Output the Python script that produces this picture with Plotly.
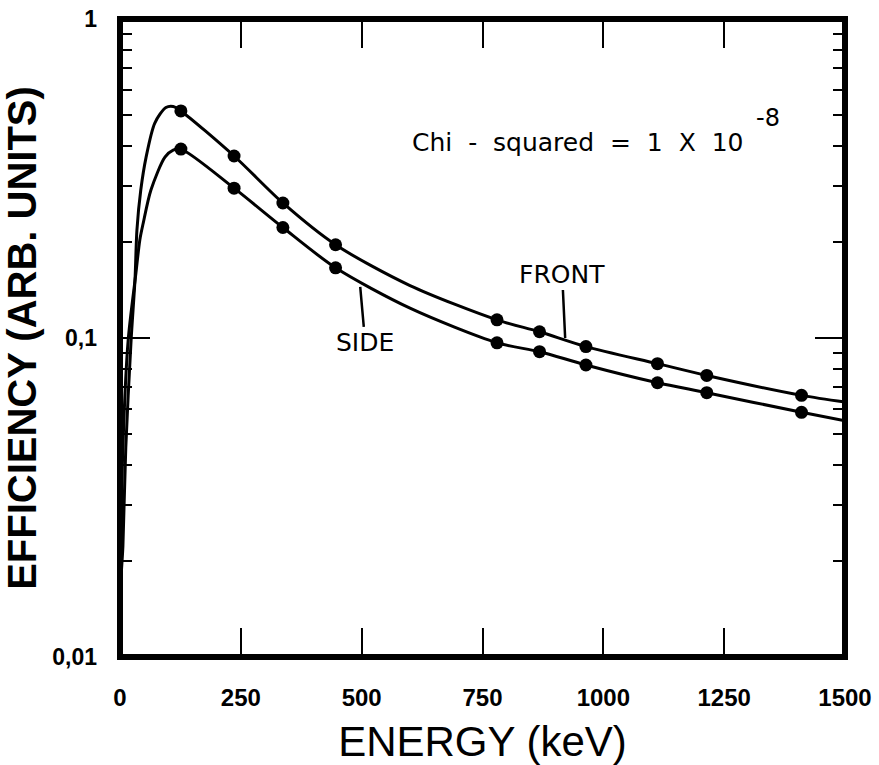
import plotly.graph_objects as go

# Measured points (energies in keV)
point_energy = [126, 236, 337, 446, 780, 868, 964, 1112, 1214, 1410]
front_points = [0.515, 0.372, 0.265, 0.196, 0.114, 0.1046, 0.0940, 0.0831, 0.0763, 0.0661]
side_points = [0.391, 0.295, 0.222, 0.166, 0.0966, 0.0906, 0.0823, 0.0724, 0.0674, 0.0585]

# Fitted curves
front_curve_energy = [0.5, 2, 6, 12, 23, 31, 35, 43, 54, 72, 95, 110, 126, 236, 337, 446, 600, 780, 868, 964, 1112, 1214, 1410, 1500]
front_curve = [0.0098, 0.0174, 0.0222, 0.0455, 0.0988, 0.152, 0.218, 0.291, 0.369, 0.472, 0.528, 0.532, 0.515, 0.372, 0.265, 0.196, 0.146, 0.114, 0.1046, 0.0940, 0.0831, 0.0763, 0.0661, 0.063]
side_curve_energy = [0.5, 2, 6, 17, 33, 41, 48, 64, 93, 110, 126, 236, 337, 446, 600, 780, 868, 964, 1112, 1214, 1410, 1500]
side_curve = [0.0098, 0.0222, 0.0455, 0.0988, 0.16, 0.203, 0.229, 0.291, 0.369, 0.388, 0.391, 0.295, 0.222, 0.166, 0.124, 0.0966, 0.0906, 0.0823, 0.0724, 0.0674, 0.0585, 0.055]

x_ticks = [0, 250, 500, 750, 1000, 1250, 1500]
y_ticks = [0.01, 0.1, 1]
y_ticktext = ["0,01", "0,1", "1"]
y_minor = [0.02, 0.03, 0.04, 0.05, 0.06, 0.07, 0.08, 0.09, 0.2, 0.3, 0.4, 0.5, 0.6, 0.7, 0.8, 0.9]

fig = go.Figure()
for xc, yc in [(front_curve_energy, front_curve), (side_curve_energy, side_curve)]:
    fig.add_trace(go.Scatter(x=xc, y=yc, mode="lines",
                             line=dict(color="black", width=3, shape="spline", smoothing=0.8),
                             showlegend=False, hoverinfo="skip"))
for yp in [front_points, side_points]:
    fig.add_trace(go.Scatter(x=point_energy, y=yp, mode="markers",
                             marker=dict(color="black", size=13),
                             showlegend=False))

font_main = "Liberation Sans, Arial, sans-serif"
font_wide = "DejaVu Sans, Verdana, sans-serif"

fig.update_layout(
    width=879, height=765,
    margin=dict(l=120, r=34, t=19, b=108),
    paper_bgcolor="white", plot_bgcolor="white",
    font=dict(family=font_main, color="black"),
    xaxis=dict(
        range=[0, 1500], tickvals=x_ticks, ticktext=[str(v) for v in x_ticks],
        ticks="inside", ticklen=29, tickwidth=2, tickcolor="black",
        showline=False, mirror="ticks",
        showgrid=False, zeroline=False, automargin=False,
        tickfont=dict(size=24, family=font_main, weight="bold"),
        ticklabelstandoff=24,
        title=dict(text="ENERGY (keV)", font=dict(size=42, family=font_main), standoff=18),
    ),
    yaxis=dict(
        type="log", range=[-2, 0], tickvals=y_ticks, ticktext=y_ticktext,
        ticks="inside", ticklen=30, tickwidth=2, tickcolor="black",
        minor=dict(tickvals=y_minor, ticks="inside", ticklen=12, tickwidth=2, tickcolor="black", showgrid=False),
        showline=False, mirror="ticks",
        showgrid=False, zeroline=False, automargin=False,
        tickfont=dict(size=23, family=font_main, weight="bold"),
        ticklabelstandoff=22,
        title=dict(text="EFFICIENCY (ARB. UNITS)", font=dict(size=40, family=font_main, weight="bold"), standoff=8),
    ),
)

# Heavy frame around the plotting area
fig.add_shape(type="rect", xref="paper", yref="paper", x0=0, x1=1, y0=0, y1=1,
              line=dict(color="black", width=6), layer="above")

nb = "\u00a0"
chi_text = f"Chi{nb}{nb}-{nb}{nb}squared{nb}{nb}={nb}{nb}1{nb}{nb}X{nb}{nb}10"
fig.add_annotation(x=600, y=-0.3856, xref="x", yref="y", text=chi_text,
                   showarrow=False, xanchor="left", font=dict(size=25, family=font_wide))
fig.add_annotation(x=1312, y=-0.31, xref="x", yref="y", text="-8",
                   showarrow=False, xanchor="left", font=dict(size=24, family=font_wide))
fig.add_annotation(x=921, y=-1.0, xref="x", yref="y", text="FRONT",
                   showarrow=True, arrowhead=0, arrowwidth=2.5, arrowcolor="black", ax=-3, ay=-64,
                   font=dict(size=25, family=font_wide))
fig.add_annotation(x=497, y=-0.84, xref="x", yref="y", text="SIDE",
                   showarrow=True, arrowhead=0, arrowwidth=2.5, arrowcolor="black", ax=5, ay=56,
                   font=dict(size=25, family=font_wide))

fig.write_html("out.html")
